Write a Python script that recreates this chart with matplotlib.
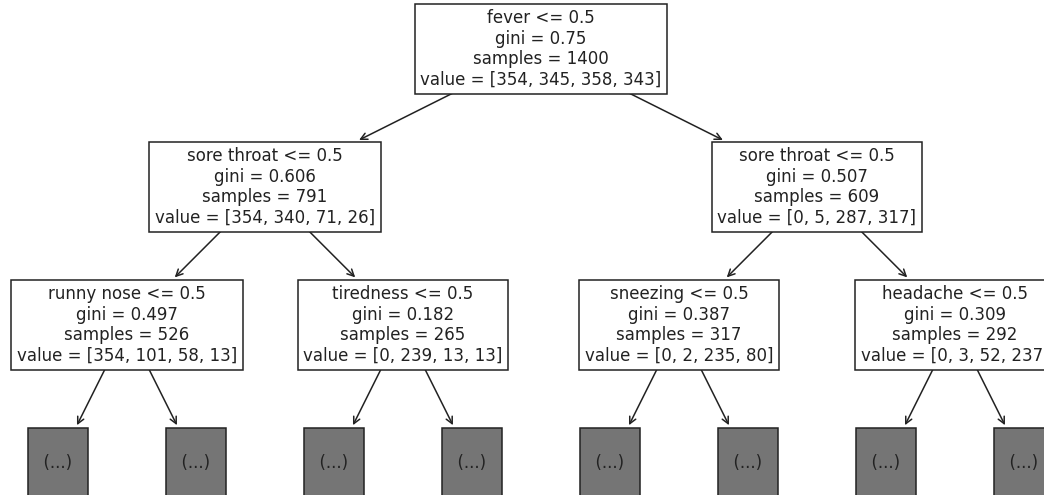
import matplotlib
matplotlib.use("Agg")
import matplotlib.pyplot as plt

# decision tree nodes in heap order (children of i are 2i+1 and 2i+2)
features = ["fever", "sore throat", "sore throat", "runny nose",
            "tiredness", "sneezing", "headache"]
thresholds = [0.5, 0.5, 0.5, 0.5, 0.5, 0.5, 0.5]
gini = [0.75, 0.606, 0.507, 0.497, 0.182, 0.387, 0.309]
samples = [1400, 791, 609, 526, 265, 317, 292]
values = [[354, 345, 358, 343], [354, 340, 71, 26], [0, 5, 287, 317],
          [354, 101, 58, 13], [0, 239, 13, 13], [0, 2, 235, 80],
          [0, 3, 52, 237]]
max_depth = 2


def node_text(i):
    return "%s <= %s\ngini = %s\nsamples = %d\nvalue = %s" % (
        features[i], thresholds[i], round(gini[i], 3), samples[i],
        "[" + ", ".join(str(v) for v in values[i]) + "]")


def layout():
    """positions: leaves of the truncated level evenly spaced, parents centred"""
    pos = {}
    n_trunc = 2 ** (max_depth + 1)
    first = 2 ** (max_depth + 1) - 1
    for j in range(n_trunc):
        pos[first + j] = (j, max_depth + 1)
    for d in range(max_depth, -1, -1):
        for i in range(2 ** d - 1, 2 ** (d + 1) - 1):
            xl = pos[2 * i + 1][0]
            xr = pos[2 * i + 2][0]
            pos[i] = ((xl + xr) / 2, d)
    return pos


fig = plt.figure(figsize=(10.44, 4.95), dpi=100)
ax = fig.add_axes([0, 0, 1, 1])
ax.set_xlim(-0.42, 7.145)
ax.set_ylim(3.23, -0.355)
ax.axis("off")

pos = layout()
fs = 12
for i in range(2 ** (max_depth + 2) - 1):
    d = pos[i][1]
    kw = dict(ha="center", va="center", fontsize=fs, zorder=100 - 10 * d,
              linespacing=1.18, color="#222222",
              bbox=dict(fc="w", ec="#222222", lw=1.1))
    if d > max_depth:
        kw["bbox"]["fc"] = "#757575"
        txt = "\n  (...)  \n"
    else:
        txt = node_text(i)
    if i == 0:
        ax.annotate(txt, pos[i], pos[i], **kw)
    else:
        parent = (i - 1) // 2
        ax.annotate(txt, pos[parent], pos[i],
                    arrowprops=dict(arrowstyle="<-", color="#222222", lw=1.1), **kw)

fig.savefig("out.png", dpi=100)
